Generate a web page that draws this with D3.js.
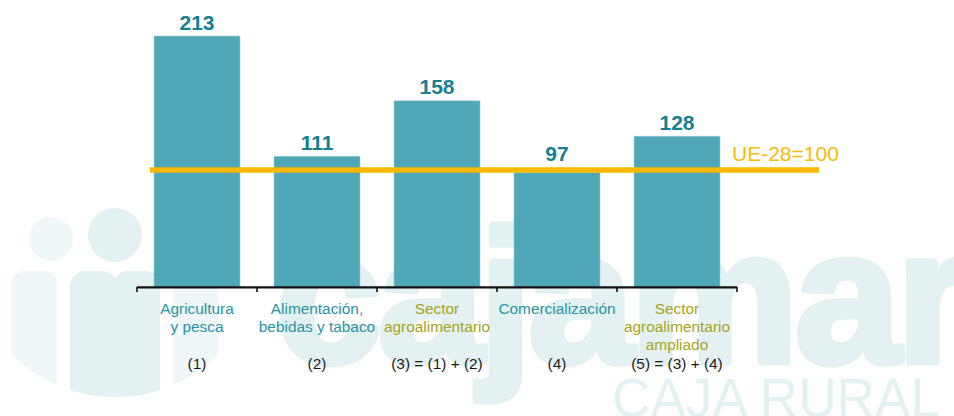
<!DOCTYPE html>
<html>
<head>
<meta charset="utf-8">
<script src="https://cdn.jsdelivr.net/npm/d3@7"></script>
<style>
  body { margin: 0; background: #fff; }
  svg { display: block; }
  text { font-family: "Liberation Sans", Arial, Helvetica, sans-serif; }
</style>
</head>
<body>
<svg width="954" height="416"></svg>
<script>
const categories = [
  ["Agricultura", "y pesca"],
  ["Alimentación,", "bebidas y tabaco"],
  ["Sector", "agroalimentario"],
  ["Comercialización"],
  ["Sector", "agroalimentario", "ampliado"]
];
const indexLabels = ["(1)", "(2)", "(3) = (1) + (2)", "(4)", "(5) = (3) + (4)"];
const values = [213, 111, 158, 97, 128];
const refValue = 100;
const refLabel = "UE-28=100";

const svg = d3.select("svg");

const teal = "#2a93a4", olive = "#a6a41c", valueColor = "#15808f";
const barColor = "#4fa7b7", refColor = "#f9b900";
const wmDark = "#e3f1f3", wmLight = "#eff7f9";

// watermark (logo) in background
const wm = svg.append("g").attr("class", "watermark");
wm.append("clipPath").attr("id", "people")
  .append("circle").attr("cx", 115).attr("cy", 250).attr("r", 147);
const people = wm.append("g").attr("clip-path", "url(#people)");
people.append("circle").attr("cx", 51).attr("cy", 239).attr("r", 22).attr("fill", wmLight);
people.append("rect").attr("x", 11).attr("y", 271).attr("width", 46).attr("height", 140)
  .attr("rx", 13).attr("fill", wmLight);
people.append("rect").attr("x", 173).attr("y", 271).attr("width", 45).attr("height", 140)
  .attr("rx", 13).attr("fill", wmLight);
people.append("circle").attr("cx", 115).attr("cy", 235).attr("r", 27).attr("fill", wmDark);
people.append("rect").attr("x", 70).attr("y", 271).attr("width", 47).attr("height", 140)
  .attr("rx", 15).attr("fill", wmDark);
people.append("rect").attr("x", 113).attr("y", 271).attr("width", 47).attr("height", 140)
  .attr("rx", 15).attr("fill", wmDark);
people.append("rect").attr("x", 70).attr("y", 286).attr("width", 90).attr("height", 130)
  .attr("fill", wmDark);

wm.append("text")
  .attr("x", 276).attr("y", 362)
  .attr("font-size", 190).attr("font-weight", "bold")
  .attr("letter-spacing", -4)
  .attr("fill", wmDark)
  .attr("stroke", wmDark)
  .attr("stroke-width", 7)
  .attr("stroke-linejoin", "round")
  .text("cajamar");

wm.append("text")
  .attr("x", 612).attr("y", 417)
  .attr("font-size", 56)
  .attr("font-family", "Inter, Lato, Roboto, sans-serif")
  .attr("font-weight", 100)
  .attr("textLength", 328).attr("lengthAdjust", "spacingAndGlyphs")
  .attr("fill", wmDark)
  .text("CAJA RURAL");

// scales
const x = d3.scaleBand()
  .domain(d3.range(values.length))
  .range([137, 737])
  .paddingInner(0.283)
  .paddingOuter(0.1415);

const y = d3.scaleLinear()
  .domain([0, d3.max(values)])
  .range([287, 36]);

// bars
svg.append("g")
  .selectAll("rect")
  .data(values)
  .join("rect")
    .attr("x", (d, i) => x(i))
    .attr("y", d => y(d))
    .attr("width", x.bandwidth())
    .attr("height", d => y(0) - y(d))
    .attr("fill", barColor)
    .attr("stroke", "#a9d4db")
    .attr("stroke-width", 0.6);

// reference line
const refY = y(refValue);
svg.append("line")
  .attr("x1", 150).attr("x2", 819)
  .attr("y1", refY + 0.8).attr("y2", refY + 0.8)
  .attr("stroke", refColor)
  .attr("stroke-width", 5.5);

svg.append("text")
  .attr("x", 732).attr("y", refY - 8)
  .attr("font-size", 21)
  .attr("fill", "#f6bc0c")
  .text(refLabel);

// value labels
svg.append("g")
  .selectAll("text")
  .data(values)
  .join("text")
    .attr("x", (d, i) => x(i) + x.bandwidth() / 2)
    .attr("y", d => Math.min(y(d), refY - 2) - 6.5)
    .attr("text-anchor", "middle")
    .attr("font-size", 21)
    .attr("font-weight", "bold")
    .attr("fill", valueColor)
    .text(d => d);

// axis: baseline with ticks at band boundaries
const x0 = x.range()[0];
const bounds = d3.range(values.length + 1).map(i => x0 + i * x.step());
const axis = svg.append("g").attr("stroke", "#111");
axis.append("line")
  .attr("x1", bounds[0]).attr("x2", bounds[bounds.length - 1])
  .attr("y1", y(0) + 0.3).attr("y2", y(0) + 0.3)
  .attr("stroke-width", 2.2);
axis.selectAll(".tick")
  .data(bounds)
  .join("line")
    .attr("class", "tick")
    .attr("x1", d => d).attr("x2", d => d)
    .attr("y1", y(0)).attr("y2", y(0) + 5)
    .attr("stroke-width", 1.6);

// category labels
const cat = svg.append("g")
  .selectAll("text")
  .data(categories)
  .join("text")
    .attr("x", (d, i) => x(i) + x.bandwidth() / 2)
    .attr("y", 313.5)
    .attr("text-anchor", "middle")
    .attr("font-size", 15.4)
    .attr("fill", (d, i) => indexLabels[i].includes("=") ? olive : teal);
cat.selectAll("tspan")
  .data(d => d)
  .join("tspan")
    .attr("x", function () { return this.parentNode.getAttribute("x"); })
    .attr("dy", (d, j) => j === 0 ? 0 : 18)
    .text(d => d);

svg.append("g")
  .selectAll("text")
  .data(indexLabels)
  .join("text")
    .attr("x", (d, i) => x(i) + x.bandwidth() / 2)
    .attr("y", 369)
    .attr("text-anchor", "middle")
    .attr("font-size", 15.4)
    .attr("fill", "#1a1a1a")
    .text(d => d);
</script>
</body>
</html>
